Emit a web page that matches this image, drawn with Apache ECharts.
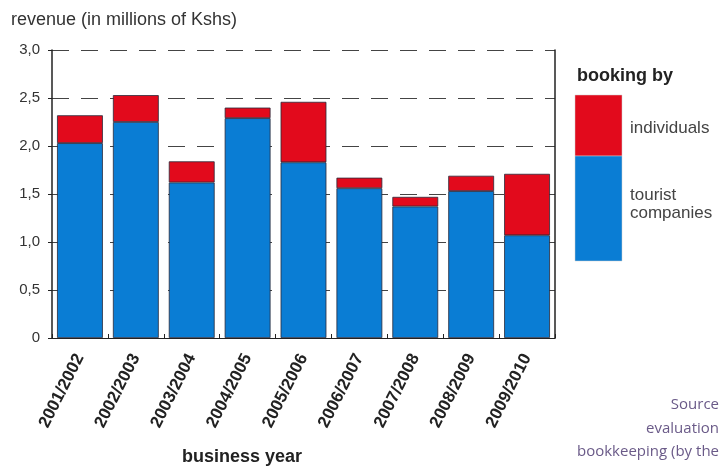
<!DOCTYPE html>
<html>
<head>
<meta charset="utf-8">
<style>html,body{margin:0;padding:0;background:#fff}#c{width:722px;height:469px}</style>
<script src="https://cdn.jsdelivr.net/npm/echarts@6/dist/echarts.min.js"></script>
</head>
<body>
<div id="c"></div>
<script>
var categories = ['2001/2002','2002/2003','2003/2004','2004/2005','2005/2006','2006/2007','2007/2008','2008/2009','2009/2010'];
var touristCompanies = [2.03, 2.25, 1.62, 2.29, 1.83, 1.56, 1.37, 1.53, 1.07];
var individuals = [0.29, 0.28, 0.22, 0.11, 0.63, 0.11, 0.10, 0.16, 0.64];
var seriesNames = ['tourist companies', 'individuals'];

var chart = echarts.init(document.getElementById('c'));
var F = 'Liberation Sans, Arial, sans-serif';
var blue = '#0a7dd4', red = '#e20a1c';
function txt(x, y, text, font, fill, align) {
  return {type: 'text', x: x, y: y, style: {text: text, font: font, fill: fill, align: align || 'left', verticalAlign: 'middle', textAlign: align || 'left', textVerticalAlign: 'middle'}};
}
chart.setOption({
  animation: false,
  textStyle: {fontFamily: F},
  grid: {left: 52, right: 167, top: 50, bottom: 131, containLabel: false},
  xAxis: {
    type: 'category',
    data: categories,
    axisLine: {lineStyle: {color: '#222', width: 1}},
    axisTick: {show: true, inside: true, length: 4, lineStyle: {color: '#222'}},
    axisLabel: {rotate: 63, fontSize: 17, fontWeight: 'bold', color: '#222', margin: 17, fontFamily: F}
  },
  yAxis: [{
    type: 'value', min: 0, max: 3, interval: 0.5,
    axisLine: {show: true, lineStyle: {color: '#222', width: 1.5}},
    axisTick: {show: true, length: 4, lineStyle: {color: '#222'}},
    axisLabel: {fontSize: 15, color: '#333', margin: 12, fontFamily: F,
      formatter: function (v) { return v === 0 ? '0' : v.toFixed(1).replace('.', ','); }},
    splitLine: {show: true, lineStyle: {color: '#444', type: [17, 12], width: 1}}
  }, {
    type: 'value', min: 0, max: 3, interval: 0.5, position: 'right',
    axisLine: {show: true, lineStyle: {color: '#222', width: 1.5}},
    axisTick: {show: false}, axisLabel: {show: false}, splitLine: {show: false}
  }],
  series: [{
    name: seriesNames[0], type: 'bar', stack: 'total', data: touristCompanies,
    barCategoryGap: '18%',
    itemStyle: {color: blue, borderColor: '#2a2a3a', borderWidth: 0.8}
  }, {
    name: seriesNames[1], type: 'bar', stack: 'total', data: individuals,
    itemStyle: {color: red, borderColor: '#2a2a3a', borderWidth: 0.8}
  }],
  graphic: [
    txt(11, 20, 'revenue (in millions of Kshs)', '18px ' + F, '#333'),
    txt(182, 457, 'business year', 'bold 18px ' + F, '#222'),
    txt(577, 76, 'booking by', 'bold 18px ' + F, '#222'),
    {type: 'rect', shape: {x: 575, y: 95, width: 47, height: 61}, style: {fill: red, stroke: '#ccc', lineWidth: 0.5}},
    {type: 'rect', shape: {x: 575, y: 156, width: 47, height: 105}, style: {fill: blue, stroke: '#ccc', lineWidth: 0.5}},
    txt(630, 128, seriesNames[1], '17px ' + F, '#444'),
    txt(630, 195, 'tourist', '17px ' + F, '#444'),
    txt(630, 213, 'companies', '17px ' + F, '#444'),
    txt(719, 405, 'Source', '15px "Open Sans", sans-serif', '#6a5a88', 'right'),
    txt(719, 429, 'evaluation', '15px "Open Sans", sans-serif', '#6a5a88', 'right'),
    txt(719, 452, 'bookkeeping (by the', '15px "Open Sans", sans-serif', '#6a5a88', 'right')
  ]
});
</script>
</body>
</html>
